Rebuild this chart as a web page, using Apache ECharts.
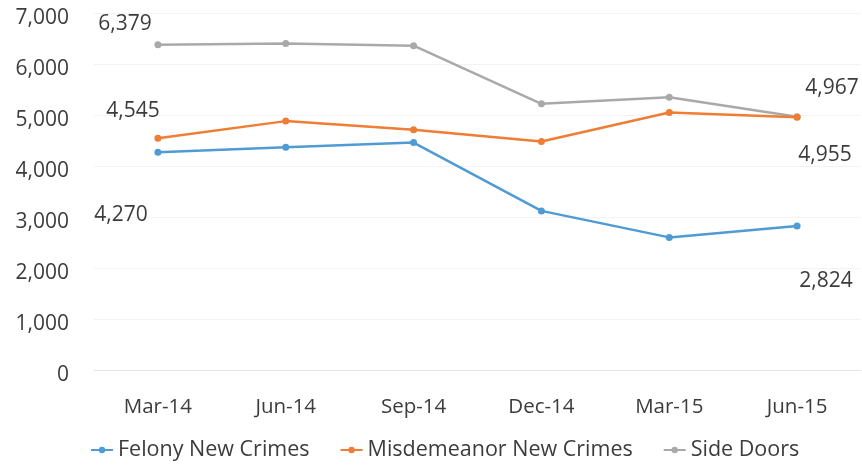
<!DOCTYPE html>
<html><head><meta charset="utf-8">
<script src="https://cdn.jsdelivr.net/npm/echarts@6/dist/echarts.min.js"></script>
<style>html,body{margin:0;padding:0;background:#fff}#c{width:862px;height:466px}</style>
</head><body><div id="c"></div>
<script>
var categories = ['Mar-14','Jun-14','Sep-14','Dec-14','Mar-15','Jun-15'];
var felony = [4270, 4370, 4460, 3120, 2600, 2824];
var misdemeanor = [4545, 4880, 4710, 4480, 5050, 4955];
var sideDoors = [6379, 6400, 6360, 5220, 5350, 4967];
var seriesNames = ['Felony New Crimes','Misdemeanor New Crimes','Side Doors'];
var yTicks = [0,1000,2000,3000,4000,5000,6000,7000];

var FONT = 'Open Sans';
var TXT = '#3c3c3c';
var colors = ['#4f9bd3','#ef7d33','#a9a9a9'];
var labelOffsets = [
  {first:[-37,63], last:[29,55]},
  {first:[-25,-27], last:[28,38]},
  {first:[-33,-21], last:[35,-29]}
];
function fmt(v){return v.toLocaleString('en-US');}
function build(arr, idx){
  return arr.map(function(v,i){
    var o = {value:v};
    if(i===0 || i===arr.length-1){
      o.label = {show:true, position:'inside', align:'center', verticalAlign:'middle',
        offset: i===0 ? labelOffsets[idx].first : labelOffsets[idx].last,
        formatter: function(p){return fmt(p.value);},
        color:TXT, fontSize:21, fontFamily:FONT};
    }
    return o;
  });
}
var all = [felony, misdemeanor, sideDoors];
var chart = echarts.init(document.getElementById('c'));
chart.setOption({
  animation:false,
  color: colors,
  grid:{left:94, right:1, top:13, bottom:96, containLabel:false},
  legend:{
    bottom:0, left:85, itemWidth:22, itemHeight:8, itemGap:30,
    textStyle:{fontSize:21.5, color:TXT, fontFamily:FONT},
    data: seriesNames
  },
  xAxis:{
    type:'category', data:categories, boundaryGap:true,
    axisLine:{show:true, lineStyle:{color:'#e6e6e6'}},
    axisTick:{show:false},
    axisLabel:{color:TXT, fontSize:20.5, margin:27, fontFamily:FONT}
  },
  yAxis:{
    type:'value', min:yTicks[0], max:yTicks[yTicks.length-1], interval:1000,
    axisLine:{show:false}, axisTick:{show:false},
    splitLine:{lineStyle:{color:'#f3f3f3'}},
    axisLabel:{color:TXT, fontSize:21, margin:25, fontFamily:FONT,
      verticalAlign:'top', lineHeight:10,
      formatter:function(v){return fmt(v);}}
  },
  series: all.map(function(arr, idx){
    return {
      name: seriesNames[idx], type:'line', data: build(arr, idx),
      symbol:'circle', symbolSize:7,
      lineStyle:{width:2.5, color:colors[idx]},
      itemStyle:{color:colors[idx]},
      z: 3 - idx
    };
  })
});
</script></body></html>
